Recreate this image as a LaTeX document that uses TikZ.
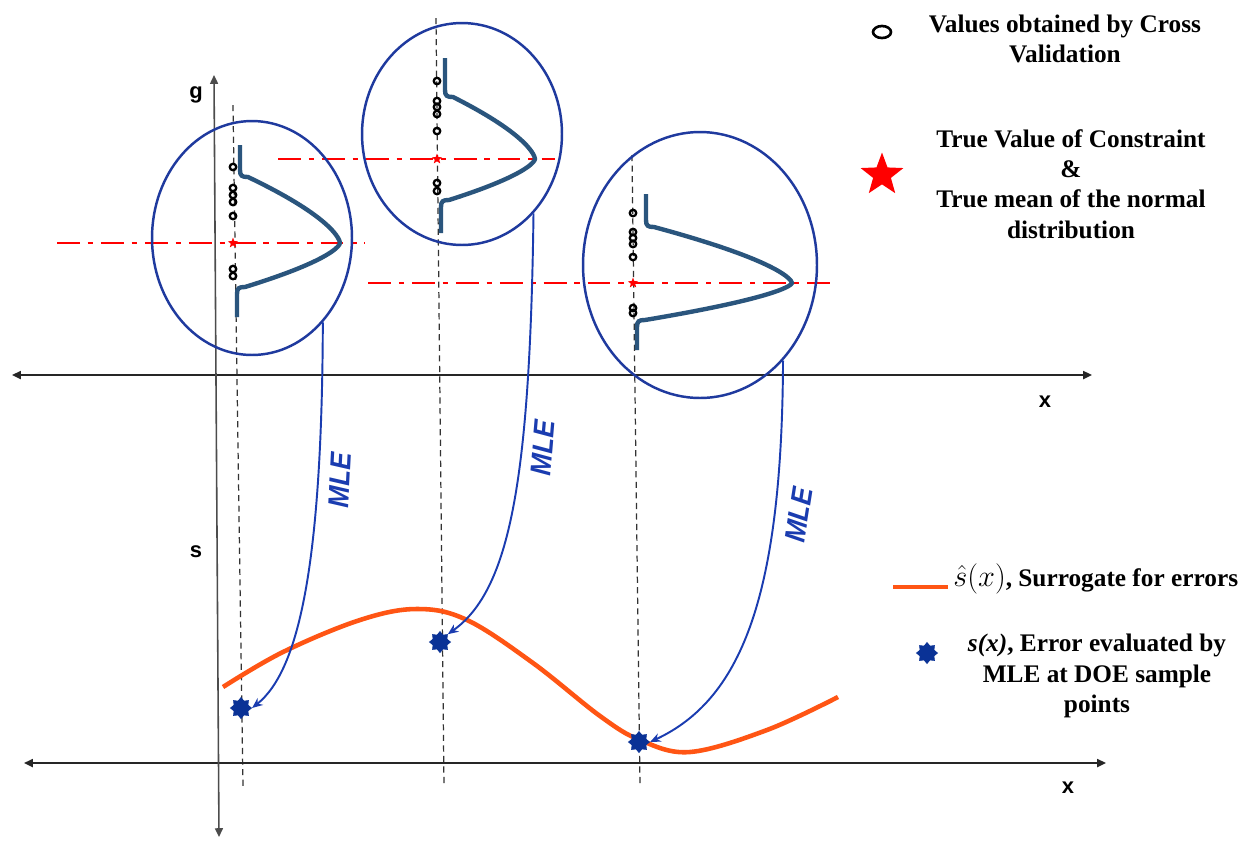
\documentclass[tikz,border=0pt]{standalone}
\usepackage{fontspec}
\usepackage{graphicx}
\setmainfont{Liberation Serif}
\setsansfont{Liberation Sans}
\usetikzlibrary{shapes.geometric,arrows.meta}
\definecolor{ellblue}{HTML}{1F3A9E}
\definecolor{gaussblue}{HTML}{2A557D}
\definecolor{mleblue}{HTML}{1A3CB0}
\definecolor{starblue}{HTML}{0A3296}
\definecolor{surr}{HTML}{FF5514}
% bx, bottom-tail x, top, mean, upper length, lower length, bottom, peak x
\newcommand\gausscurve[8]{%
\draw[gline] (#1,#3) -- (#1,#4-#5-7) .. controls (#1,#4-#5-1) and (#1+2,#4-#5) .. (#1+8,#4-#5)
 -- plot[domain=-1:0,samples=25] ({#1+8+(#8-#1-8)*(1-abs(\x)*sqrt(abs(\x)))},{#4+(\x)*#5})
 -- plot[domain=0:1,samples=25] ({#2+8+(#8-#2-8)*(1-(\x)*sqrt(\x))},{#4+(\x)*#6})
 .. controls (#2+2,#4+#6) and (#2,#4+#6+1) .. (#2,#4+#6+7) -- (#2,#7);}
\begin{document}
\begin{tikzpicture}[x=0.02cm,y=-0.02cm,
  axis/.style={line width=1.1pt, draw=black!85, {Triangle[length=5pt,width=4.5pt]}-{Triangle[length=5pt,width=4.5pt]}},
  guide/.style={line width=0.7pt, draw=black!80, dash pattern=on 3.5pt off 2.5pt},
  meanline/.style={draw=red, line width=1.6pt, dash pattern=on 13pt off 4.5pt on 3pt off 4.5pt},
  gline/.style={draw=gaussblue, line width=2.5pt},
  ellnode/.style={ellipse, draw=ellblue, line width=1.4pt, inner sep=0pt},
  cv/.style={circle, draw=black, line width=1.3pt, inner sep=0pt, minimum size=0.13cm},
  meanstar/.style={star, star points=5, star point ratio=2.4, fill=red, inner sep=0pt, minimum size=0.22cm},
  errstar/.style={star, star points=8, star point ratio=1.4, fill=starblue, draw=starblue, inner sep=0pt, minimum size=0.42cm},
  mle/.style={draw=mleblue, line width=1.1pt, -{Stealth[length=6pt,width=5pt]}},
  mlelabel/.style={text=mleblue, font=\sffamily\bfseries\itshape\fontsize{16.5}{17}\selectfont, inner sep=0pt},
  leg/.style={font=\bfseries\fontsize{14.4}{17.2}\selectfont, align=center, inner sep=0pt},
  axlab/.style={font=\sffamily\bfseries\fontsize{12.5}{12.5}\selectfont, inner sep=0pt},
  surrogate/.style={draw=surr, line width=2.6pt}]
\useasboundingbox (0,0) rectangle (1247,840);
\fill[white] (0,0) rectangle (1247,840);

% dashed guides
\draw[guide] (233,105) -- (243,787);
\draw[guide] (436,18) -- (444,787);
\draw[guide] (632,155) -- (640,787);

% axes
\draw[axis] (12,375) -- (1092,375);
\draw[axis] (24,763) -- (1106,763);
\draw[axis, draw=black!70, line width=0.9pt] (214,75) -- (219,837);
\node[axlab] (lg) at (196,95) {g};
\node[axlab] (ls) at (196,552) {s};
\node[axlab] (lx1) at (1045,402) {x};
\node[axlab] (lx2) at (1068,788) {x};

% mean lines
\draw[meanline] (57,243) -- (365,243);
\draw[meanline] (278,159) -- (555,159);
\draw[meanline] (368,283) -- (832,283);

% ellipses
\node[ellnode, minimum width=4cm, minimum height=4.68cm] (e1) at (252,238) {};
\node[ellnode, minimum width=4cm, minimum height=4.44cm] (e2) at (462,134) {};
\node[ellnode, minimum width=4.68cm, minimum height=5.32cm] (e3) at (700,265) {};

% distributions
\gausscurve{240}{237}{145}{243}{66}{44}{317}{340}
\gausscurve{445}{441}{58}{159}{62}{41}{233}{535}
\gausscurve{646}{637}{194}{283}{56}{37}{350}{792}

% cross-validation values
\foreach \yy [count=\i] in {167,188,195,202,216,269,276} \node[cv] (ca\i) at (233,\yy) {};
\foreach \yy [count=\i] in {81,101,107,114,131,183,191} \node[cv] (cb\i) at (437,\yy) {};
\foreach \yy [count=\i] in {213,232,238,244,257,308,313} \node[cv] (cc\i) at (633,\yy) {};

% true values
\node[meanstar] (t1) at (233,243) {};
\node[meanstar] (t2) at (437,159) {};
\node[meanstar] (t3) at (633,283) {};

% surrogate
\draw[surrogate] plot[smooth, tension=0.6] coordinates {(223,687) (283,652) (360,620) (417,609) (467,620) (533,663) (600,716) (640,740) (690,752) (767,730) (838,697)};

% errors
\node[errstar] (s1) at (241,708) {};
\node[errstar] (s2) at (440,642) {};
\node[errstar] (s3) at (639,742) {};

% MLE connectors
\draw[mle] (e1.-50) .. controls (322,560) and (300,670) .. (s1.east);
\draw[mle] (e2.-48) .. controls (530,480) and (510,590) .. (s2.north east);
\draw[mle] (e3.-49) .. controls (782,600) and (740,700) .. (s3.east);
\node[mlelabel, rotate=87] (m1) at (340,480) {\scalebox{0.9}[1]{MLE}};
\node[mlelabel, rotate=85] (m2) at (543,448) {\scalebox{0.9}[1]{MLE}};
\node[mlelabel, rotate=81] (m3) at (799,515) {\scalebox{0.9}[1]{MLE}};

% legend
\node[ellipse, draw=black, line width=1.5pt, inner sep=0pt, minimum width=0.36cm, minimum height=0.24cm] (lcv) at (882,32) {};
\node[leg] (lt1) at (1065,39) {Values obtained by Cross\\Validation};
\node[meanstar, minimum size=0.9cm] (lts) at (882,175) {};
\node[leg] (lt2) at (1071,184) {True Value of Constraint\\\&\\True mean of the normal\\distribution};
\coordinate (la) at (893,587);
\coordinate (lb) at (948,587);
\draw[surrogate] (la) -- (lb);
\node[leg, anchor=west] (lt3) at (953,579) {{\fontsize{17.5}{18}\selectfont$\hat{s}(x)$}, Surrogate for errors};
\node[errstar] (les) at (927,653) {};
\node[leg] (lt4) at (1097,676) {\textit{s(x)}, Error evaluated by\\MLE at DOE sample\\points};
\end{tikzpicture}
\end{document}
